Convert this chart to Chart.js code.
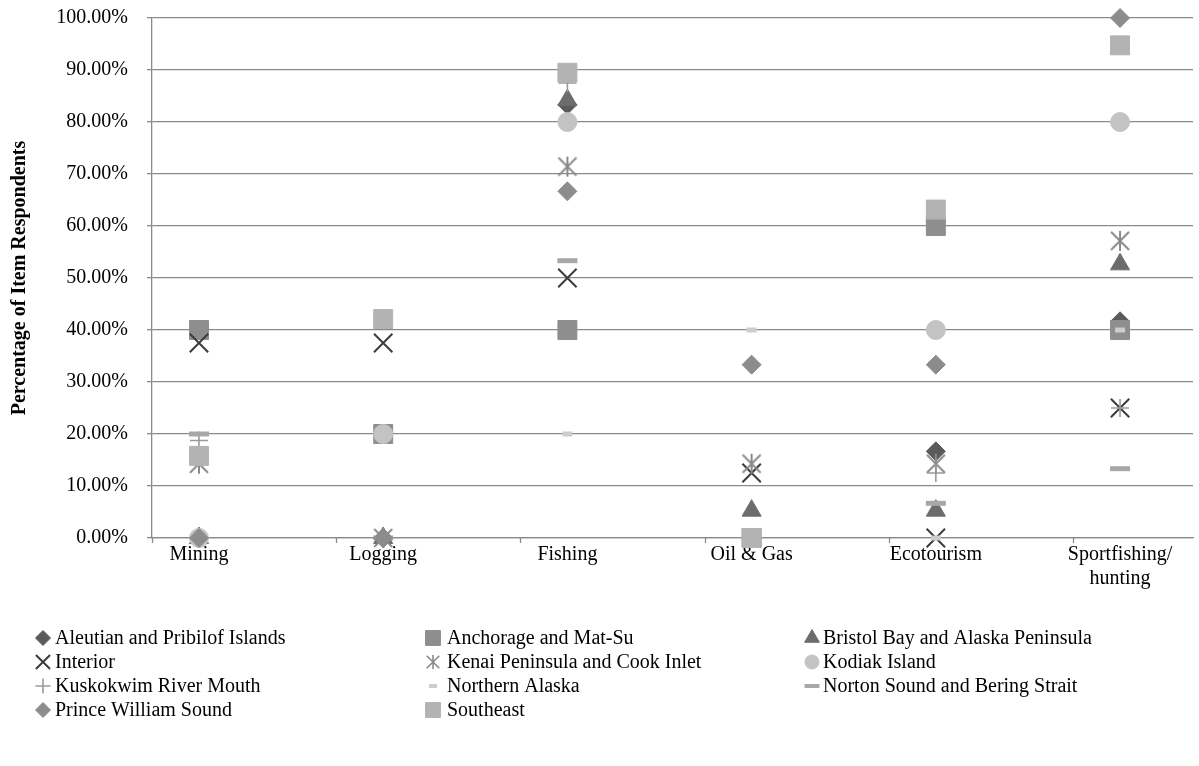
<!DOCTYPE html>
<html><head><meta charset="utf-8">
<script src="https://cdn.jsdelivr.net/npm/chart.js@4/dist/chart.umd.min.js"></script>
<style>html,body{margin:0;padding:0;background:#fff;}#wrap{width:1199px;height:766px;position:relative;}</style>
</head><body><div id="wrap"><canvas id="c" width="1199" height="766"></canvas></div>
<script>
// ---- data ----
const categories = ['Mining', 'Logging', 'Fishing', 'Oil & Gas', 'Ecotourism', ['Sportfishing/', 'hunting']];
const yTickValues = [0, 10, 20, 30, 40, 50, 60, 70, 80, 90, 100];
const seriesNames = ['Aleutian and Pribilof Islands', 'Anchorage and Mat-Su', 'Bristol Bay and Alaska Peninsula',
  'Interior', 'Kenai Peninsula and Cook Inlet', 'Kodiak Island', 'Kuskokwim River Mouth', 'Northern Alaska',
  'Norton Sound and Bering Strait', 'Prince William Sound', 'Southeast'];
const aleutian  = [0, 0, 83.33, 0, 16.67, 41.67];
const anchorage = [40, 20, 40, 0, 60, 40];
const bristol   = [0, 0, 84.21, 5.26, 5.26, 52.63];
const interior  = [37.5, 37.5, 50, 12.5, 0, 25];
const kenai     = [14.29, 0, 71.43, 14.29, 14.29, 57.14];
const kodiak    = [0, 20, 80, 0, 40, 80];
const kuskokwim = [18.75, 0, 87.5, 0, 12.5, 25];
const northern  = [0, 0, 20, 40, 0, 40];
const norton    = [20, 0, 53.33, 0, 6.67, 13.33];
const pws       = [0, 0, 66.67, 33.33, 33.33, 100];
const southeast = [15.79, 42.11, 89.47, 0, 63.16, 94.74];
const seriesValues = [aleutian, anchorage, bristol, interior, kenai, kodiak, kuskokwim, northern, norton, pws, southeast];

// ---- styles ----
const FONT = "'Liberation Serif', 'Times New Roman', serif";
const gridColor = '#8a8a8a';
const xMin = 0.745, xMax = 6.396;

function makeAsterisk(size, color, lw) {
  const c = document.createElement('canvas');
  const s = size + 4; c.width = s; c.height = s;
  const g = c.getContext('2d');
  const m = s / 2, h = size / 2, d = h * 0.9;
  g.strokeStyle = color; g.lineWidth = lw;
  g.beginPath();
  g.moveTo(m - d, m - d); g.lineTo(m + d, m + d);
  g.moveTo(m + d, m - d); g.lineTo(m - d, m + d);
  g.moveTo(m, m - h); g.lineTo(m, m + h);
  g.stroke();
  return c;
}

const styles = [
  {color: '#5a5a5a', pointStyle: 'rectRot', r: 9.5, bw: 1, lr: 7.5},
  {color: '#8e8e8e', pointStyle: 'rect', r: 13.4, bw: 1, lr: 10.5},
  {color: '#6c6c6c', pointStyle: 'triangle', r: 11, bw: 1, lr: 8.5},
  {color: '#3c3c3c', pointStyle: 'crossRot', r: 13, bw: 2, lr: 10, line: true},
  {color: '#8a8a8a', pointStyle: makeAsterisk(20, '#8a8a8a', 2), legendImg: makeAsterisk(14, '#8a8a8a', 1.6), r: 10, bw: 0},
  {color: '#c3c3c3', pointStyle: 'circle', r: 9.5, bw: 1, lr: 7},
  {color: '#9a9a9a', pointStyle: 'cross', r: 9, bw: 1.6, lr: 7.5, line: true},
  {color: '#cdcdcd', pointStyle: 'line', r: 5, bw: 5, lr: 4, line: true, lbw: 4},
  {color: '#a8a8a8', pointStyle: 'line', r: 10, bw: 5, lr: 7.5, line: true, lbw: 4},
  {color: '#8c8c8c', pointStyle: 'rectRot', r: 9.5, bw: 1, lr: 7.5},
  {color: '#b3b3b3', pointStyle: 'rect', r: 13.4, bw: 1, lr: 10.5}
];

const datasets = seriesNames.map((name, i) => ({
  label: name,
  data: seriesValues[i].map((v, j) => ({x: j + 1, y: v})),
  pointStyle: styles[i].pointStyle,
  pointRadius: styles[i].r,
  pointHoverRadius: styles[i].r,
  pointBackgroundColor: styles[i].color,
  pointBorderColor: styles[i].color,
  pointBorderWidth: styles[i].bw,
  showLine: false,
  clip: false,
  order: -i
}));

const xTickPlugin = {
  id: 'xTicks',
  afterDraw(chart) {
    const xs = chart.scales.x, ctx = chart.ctx, y = chart.chartArea.bottom;
    ctx.save(); ctx.strokeStyle = gridColor; ctx.lineWidth = 1.3;
    for (let k = 0; k < categories.length; k++) {
      const px = Math.round(xs.getPixelForValue(xMin + k)) + 0.5;
      ctx.beginPath(); ctx.moveTo(px, y); ctx.lineTo(px, y + 5); ctx.stroke();
    }
    ctx.restore();
  }
};

const legendCols = [{mx: 43, tx: 55}, {mx: 433, tx: 447}, {mx: 812, tx: 823}];
const legendRows = [638, 662, 686, 710];
const legendPlugin = {
  id: 'gridLegend',
  afterDraw(chart) {
    const ctx = chart.ctx;
    ctx.save();
    seriesNames.forEach((name, i) => {
      const col = legendCols[i % 3], y = legendRows[Math.floor(i / 3)];
      const st = styles[i];
      ctx.fillStyle = st.color; ctx.strokeStyle = st.color;
      if (st.legendImg) {
        ctx.drawImage(st.legendImg, col.mx - st.legendImg.width / 2, y - st.legendImg.height / 2);
      } else {
        ctx.lineWidth = st.lbw || st.bw;
        Chart.helpers.drawPoint(ctx, {pointStyle: st.pointStyle, radius: st.lr, rotation: 0, borderWidth: st.lbw || st.bw}, col.mx, y);
      }
      ctx.fillStyle = '#000';
      ctx.font = '20px ' + FONT;
      ctx.textAlign = 'left'; ctx.textBaseline = 'middle';
      ctx.fillText(name, col.tx, y + 1);
    });
    ctx.restore();
  }
};

new Chart(document.getElementById('c'), {
  type: 'scatter',
  data: {datasets},
  plugins: [xTickPlugin, legendPlugin],
  options: {
    responsive: false,
    animation: false,
    events: [],
    layout: {autoPadding: false, padding: {left: 0, right: 6, top: 18, bottom: 168}},
    plugins: {legend: {display: false}, tooltip: {enabled: false}},
    scales: {
      x: {
        type: 'linear', min: xMin, max: xMax,
        afterBuildTicks: s => { s.ticks = categories.map((c, i) => ({value: i + 1})); },
        afterFit: s => { s.height = 60; s.paddingLeft = 0; s.paddingRight = 0; },
        grid: {display: false},
        border: {display: true, color: gridColor, width: 1.3},
        ticks: {
          autoSkip: false, maxRotation: 0, padding: -3, color: '#000',
          font: {family: FONT, size: 20},
          callback: v => categories[Math.round(v) - 1]
        }
      },
      y: {
        min: 0, max: 100,
        afterBuildTicks: s => { s.ticks = yTickValues.map(v => ({value: v})); },
        afterFit: s => { s.width = 152; s.paddingTop = 0; s.paddingBottom = 0; },
        grid: {color: gridColor, lineWidth: 1.3, tickLength: 5},
        border: {display: true, color: gridColor, width: 1.3},
        ticks: {padding: 19, color: '#000', font: {family: FONT, size: 20},
          callback: v => v.toFixed(2) + '%'},
        title: {display: true, text: 'Percentage of Item Respondents', color: '#000',
          font: {family: FONT, size: 20, weight: 'bold'}, padding: {top: 8, bottom: 0}}
      }
    }
  }
});
</script></body></html>
